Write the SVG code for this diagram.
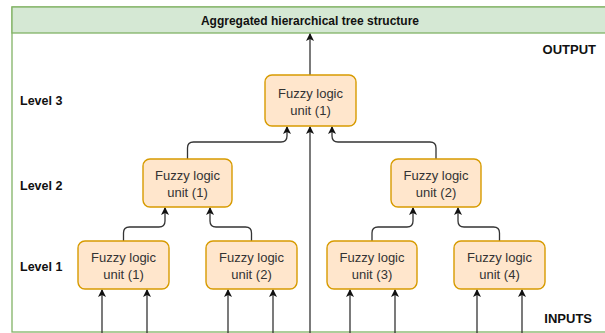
<svg xmlns="http://www.w3.org/2000/svg" width="605" height="333" viewBox="0 0 605 333">
  <style>
    .frame { fill: #ffffff; stroke: #82b366; stroke-width: 1.3; }
    .header { fill: #d5e8d4; stroke: #82b366; stroke-width: 1.3; }
    .title { font-family: "Liberation Sans", Arial, sans-serif; font-size: 12px; font-weight: bold; fill: #111; }
    .unit rect { fill: #ffe6cc; stroke: #d79b00; stroke-width: 1.4; }
    .unit text { font-family: "Liberation Sans", Arial, sans-serif; font-size: 13px; fill: #333; text-anchor: middle; }
    .label { font-family: "Liberation Sans", Arial, sans-serif; font-size: 12.5px; font-weight: bold; fill: #111; }
    .io { font-family: "Liberation Sans", Arial, sans-serif; font-size: 13px; font-weight: bold; fill: #111; text-anchor: end; }
    .wire { fill: none; stroke: #333; stroke-width: 1.3; marker-end: url(#arrow); }
  </style>
  <defs>
    <marker id="arrow" markerWidth="8" markerHeight="10" refX="7" refY="4" orient="auto" markerUnits="userSpaceOnUse" viewBox="0 0 8 8">
      <path d="M0,0 L8,4 L0,8 L2,4 Z" fill="#111"/>
    </marker>
  </defs>

  <!-- container with title band -->
  <g id="container">
    <rect class="frame" x="12" y="7" width="600" height="325"/>
    <rect class="header" x="12" y="7" width="600" height="26"/>
    <text class="title" x="310" y="24.5" text-anchor="middle">Aggregated hierarchical tree structure</text>
  </g>

  <!-- side labels -->
  <g id="labels">
    <text class="io" x="596" y="54">OUTPUT</text>
    <text class="label" x="20" y="105">Level 3</text>
    <text class="label" x="20" y="190">Level 2</text>
    <text class="label" x="20" y="271">Level 1</text>
    <text class="io" x="592" y="323">INPUTS</text>
  </g>

  <!-- connectors -->
  <g id="connectors">
    <!-- output -->
    <path class="wire" d="M310,75 L310,34"/>
    <!-- level 2 to level 3 -->
    <path class="wire" d="M187.5,159 L187.5,148 Q187.5,142 193.5,142 L281,142 Q287,142 287,136 L287,127"/>
    <path class="wire" d="M436,159 L436,148 Q436,142 430,142 L338,142 Q332,142 332,136 L332,127"/>
    <!-- direct input to level 3 -->
    <path class="wire" d="M310,333 L310,127"/>
    <!-- level 1 to level 2 -->
    <path class="wire" d="M123.5,241 L123.5,233 Q123.5,227 129.5,227 L159,227 Q165,227 165,221 L165,208"/>
    <path class="wire" d="M251.5,241 L251.5,233 Q251.5,227 245.5,227 L216,227 Q210,227 210,221 L210,208"/>
    <path class="wire" d="M372,241 L372,233 Q372,227 378,227 L407,227 Q413,227 413,221 L413,208"/>
    <path class="wire" d="M499.5,241 L499.5,233 Q499.5,227 493.5,227 L464,227 Q458,227 458,221 L458,208"/>
    <!-- inputs to level 1 -->
    <path class="wire" d="M102,333 L102,290"/>
    <path class="wire" d="M147,333 L147,290"/>
    <path class="wire" d="M228,333 L228,290"/>
    <path class="wire" d="M273,333 L273,290"/>
    <path class="wire" d="M350,333 L350,290"/>
    <path class="wire" d="M395,333 L395,290"/>
    <path class="wire" d="M477,333 L477,290"/>
    <path class="wire" d="M522,333 L522,290"/>
  </g>

  <!-- level 3 -->
  <g id="l3-unit1" class="unit">
    <rect x="265" y="75" width="91" height="51" rx="7"/>
    <text x="310.5" y="97.5">Fuzzy logic</text>
    <text x="310.5" y="114.5">unit (1)</text>
  </g>

  <!-- level 2 -->
  <g id="l2-unit1" class="unit">
    <rect x="143" y="159" width="89" height="48" rx="7"/>
    <text x="187.5" y="180">Fuzzy logic</text>
    <text x="187.5" y="196.5">unit (1)</text>
  </g>
  <g id="l2-unit2" class="unit">
    <rect x="391" y="159" width="90" height="48" rx="7"/>
    <text x="436" y="180">Fuzzy logic</text>
    <text x="436" y="196.5">unit (2)</text>
  </g>

  <!-- level 1 -->
  <g id="l1-unit1" class="unit">
    <rect x="78" y="241" width="91" height="48" rx="7"/>
    <text x="123.5" y="262">Fuzzy logic</text>
    <text x="123.5" y="278.5">unit (1)</text>
  </g>
  <g id="l1-unit2" class="unit">
    <rect x="206" y="241" width="91" height="48" rx="7"/>
    <text x="251.5" y="262">Fuzzy logic</text>
    <text x="251.5" y="278.5">unit (2)</text>
  </g>
  <g id="l1-unit3" class="unit">
    <rect x="327" y="241" width="90" height="48" rx="7"/>
    <text x="372" y="262">Fuzzy logic</text>
    <text x="372" y="278.5">unit (3)</text>
  </g>
  <g id="l1-unit4" class="unit">
    <rect x="454" y="241" width="91" height="48" rx="7"/>
    <text x="499.5" y="262">Fuzzy logic</text>
    <text x="499.5" y="278.5">unit (4)</text>
  </g>
</svg>
